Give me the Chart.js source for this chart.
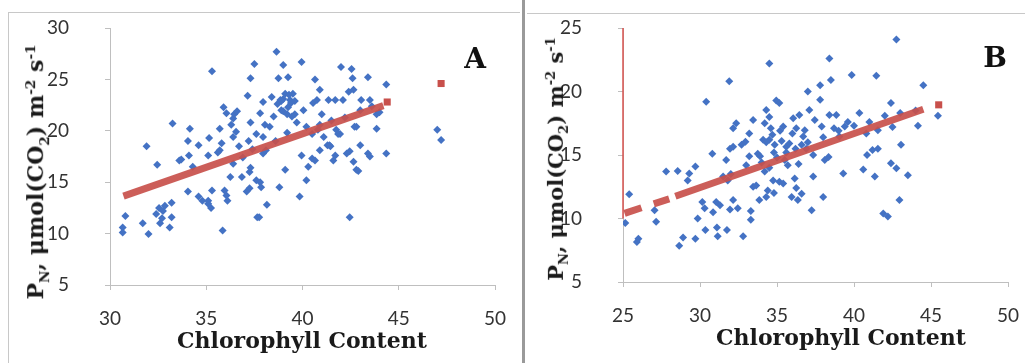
<!DOCTYPE html>
<html>
<head>
<meta charset="utf-8">
<script src="https://cdn.jsdelivr.net/npm/chart.js@4.4.1/dist/chart.umd.min.js"></script>
<style>
  body { margin: 0; background: #fff; }
  #wrap { position: relative; width: 1025px; height: 363px; overflow: hidden; background: #fff; }
  .panel { position: absolute; top: 0; height: 363px; }
  .panel canvas { position: absolute; left: 0; top: 0; }
  .ytitle { position: absolute; white-space: nowrap; font-family: "DejaVu Serif", serif; font-weight: bold; color: #1a1a1a; transform: translate(-50%, -50%) rotate(-90deg); }
  .ytitle sub, .ytitle sup { font-size: 62%; }
  .xtitle { position: absolute; white-space: nowrap; font-family: "DejaVu Serif", serif; font-weight: bold; color: #1a1a1a; transform: translate(-50%, -50%); }
  .tag { position: absolute; font-family: "DejaVu Serif", serif; font-weight: bold; font-size: 28px; color: #111; transform: translate(-50%, -50%); }
  .line { position: absolute; background: #c8c8c8; }
</style>
</head>
<body>
<div id="wrap">
  <div class="line" style="left:8px;top:12px;width:512px;height:1px"></div>
  <div class="line" style="left:8px;top:12px;width:1px;height:351px"></div>
  <div class="line" style="left:527px;top:13px;width:498px;height:1px"></div>
  <div class="line" style="left:522px;top:0;width:3px;height:363px;background:#9a9a9a"></div>

  <div class="panel" style="left:0;width:520px">
    <canvas id="chartA" width="520" height="363"></canvas>
  </div>
  <div class="panel" style="left:526px;width:499px">
    <canvas id="chartB" width="499" height="363"></canvas>
  </div>

  <div class="ytitle" style="left:37px;top:172px;font-size:22px">P<sub>N</sub>, μmol(CO<sub>2</sub>) m<sup>-2</sup> s<sup>-1</sup></div>
  <div class="ytitle" style="left:557px;top:159px;font-size:21px">P<sub>N</sub>, μmol(CO<sub>2</sub>) m<sup>-2</sup> s<sup>-1</sup></div>
  <div class="xtitle" style="left:302px;top:340px;font-size:22px">Chlorophyll Content</div>
  <div class="xtitle" style="left:841px;top:337px;font-size:22px">Chlorophyll Content</div>
  <div class="tag" style="left:475px;top:58px">A</div>
  <div class="tag" style="left:995px;top:57px">B</div>
</div>

<script>
// panel A - measured values
const chlA = [
  30.66, 30.66, 30.8, 31.7, 31.9, 32.0, 32.45, 32.4, 32.55, 32.7,
  32.75, 32.85, 32.6, 33.1, 33.2, 33.2, 33.25, 33.6, 34.1, 34.05,
  34.15, 34.05, 34.6, 34.6, 34.8, 35.1, 35.15, 35.1, 35.25, 35.1,
  35.3, 35.3, 35.7, 35.7, 35.85, 35.8, 35.9, 35.95, 36.05, 36.1,
  36.05, 36.25, 36.3, 36.4, 36.45, 36.6, 36.4, 36.4, 36.55, 36.85,
  37.1, 37.15, 37.25, 37.25, 37.3, 37.3, 37.3, 37.5, 37.6, 37.65,
  37.75, 37.8, 37.6, 37.95, 38.05, 37.95, 37.8, 37.85, 38.15, 37.95,
  38.1, 38.3, 38.5, 38.65, 38.75, 38.8, 38.85, 38.9, 39.0, 39.0,
  39.1, 39.1, 39.2, 39.25, 39.25, 39.35, 39.45, 39.5, 39.6, 39.7,
  39.85, 39.95, 39.95, 40.05, 40.2, 40.3, 40.5, 40.5, 40.55, 40.65,
  40.65, 40.75, 40.8, 40.9, 40.9, 41.0, 41.1, 41.3, 41.35, 41.4,
  41.45, 41.6, 41.7, 41.7, 41.75, 41.85, 41.95, 42.0, 42.1, 42.3,
  42.4, 42.45, 42.45, 42.55, 42.6, 42.65, 42.65, 42.7, 42.8, 42.8,
  42.9, 43.0, 43.05, 43.4, 43.4, 43.5, 43.5, 43.85, 43.85, 44.35,
  44.35, 47.0, 47.2, 33.7, 34.3, 35.6, 36.9, 37.4, 38.6, 39.2,
  40.2, 40.9, 41.5, 42.2, 43.0, 43.6, 44.0, 38.4, 39.6, 38.7,
  39.0, 39.3, 39.4, 38.9, 37.2, 36.7
];
const pnA = [
  10.6, 10.1, 11.7, 11.0, 18.5, 9.95, 16.7, 11.9, 12.5, 11.5,
  12.2, 12.7, 11.0, 10.6, 11.6, 13.0, 20.7, 17.1, 17.6, 19.0,
  20.2, 14.1, 18.6, 13.6, 13.2, 12.9, 19.3, 13.2, 12.5, 17.6,
  25.8, 14.2, 18.1, 20.2, 10.3, 18.8, 22.3, 14.2, 21.7, 13.2,
  13.7, 15.5, 20.6, 21.2, 21.6, 21.9, 19.4, 16.8, 19.9, 15.5,
  14.1, 23.4, 14.4, 16.0, 20.8, 16.4, 25.1, 26.5, 15.2, 11.6,
  11.6, 15.0, 19.7, 19.4, 20.6, 22.8, 21.7, 14.5, 12.8, 17.8,
  18.1, 20.4, 21.4, 27.7, 25.1, 14.5, 23.0, 22.0, 26.4, 23.1,
  16.2, 23.6, 21.6, 25.2, 22.3, 23.0, 21.4, 23.6, 21.6, 20.8,
  13.6, 17.6, 26.7, 22.0, 15.2, 16.5, 19.7, 17.3, 22.7, 25.0,
  17.1, 23.0, 20.1, 18.1, 24.0, 21.6, 19.4, 18.6, 23.0, 18.6,
  18.5, 17.1, 17.6, 23.0, 20.1, 19.7, 19.7, 26.2, 23.0, 17.8,
  23.8, 18.0, 11.6, 26.0, 25.1, 24.0, 17.0, 20.4, 20.4, 16.2,
  16.1, 18.6, 23.0, 25.2, 17.8, 17.5, 23.0, 20.2, 21.6, 24.5,
  17.8, 20.1, 19.1, 17.2, 16.5, 17.9, 17.4, 18.2, 19.0, 19.8,
  20.4, 20.6, 21.0, 21.3, 22.0, 22.4, 21.8, 23.3, 22.9, 22.6,
  21.9, 23.5, 22.7, 22.9, 19.0, 18.5
];
// red fitted values
const fitChlA = [30.7, 44.2];
const fitPnA = [13.65, 22.45];
const endChlA = [44.4, 47.2];
const endPnA = [22.8, 24.6];
const xTicksA = [30, 35, 40, 45, 50];
const yTicksA = [5, 10, 15, 20, 25, 30];

// panel B
const chlB = [
  25.15, 25.4, 25.9, 26.0, 27.05, 27.15, 27.8, 28.55, 28.65, 28.9,
  29.2, 29.3, 29.7, 29.7, 29.85, 30.15, 30.3, 30.35, 30.4, 30.8,
  30.85, 31.05, 31.1, 31.15, 31.3, 31.7, 31.75, 31.8, 31.9, 31.95,
  31.95, 32.15, 32.15, 32.15, 32.35, 32.45, 32.7, 32.8, 32.95, 33.2,
  33.2, 33.3, 33.3, 33.45, 33.45, 33.65, 33.75, 33.85, 34.1, 34.2,
  34.3, 34.3, 34.2, 34.4, 34.5, 34.5, 34.5, 34.6, 34.75, 34.8,
  34.85, 34.95, 35.15, 35.15, 35.4, 35.4, 35.5, 35.6, 35.8, 35.95,
  36.05, 36.15, 36.25, 36.25, 36.35, 36.45, 36.6, 36.7, 36.8, 36.9,
  37.0, 37.1, 37.25, 37.35, 37.35, 37.45, 37.8, 37.8, 37.9, 38.0,
  38.1, 38.35, 38.4, 38.4, 38.5, 38.85, 39.05, 39.3, 39.4, 39.85,
  40.35, 40.6, 40.8, 40.85, 41.2, 41.35, 41.45, 41.55, 41.55, 41.9,
  42.2, 42.4, 42.4, 42.75, 42.75, 42.95, 43.05, 43.5, 44.15, 44.5,
  45.45, 31.5, 32.0, 33.0, 34.0, 35.0, 35.6, 36.2, 37.0, 38.0,
  39.0, 40.0, 41.0, 42.0, 43.0, 44.0, 42.5, 38.7, 39.6, 34.7,
  35.3, 36.4, 34.3, 34.8, 35.2, 35.7, 36.0, 36.6, 33.9, 34.5
];
const pnB = [
  9.65, 11.9, 8.15, 8.4, 10.65, 9.75, 13.7, 13.75, 7.85, 8.5,
  13.0, 13.55, 14.1, 8.4, 10.0, 11.3, 10.8, 9.1, 19.2, 15.1,
  10.5, 11.3, 9.3, 8.6, 11.05, 14.6, 9.1, 13.0, 20.8, 10.7,
  15.5, 15.65, 17.1, 11.45, 17.5, 10.8, 15.8, 8.6, 16.05, 14.9,
  16.7, 10.6, 9.9, 12.5, 17.75, 12.6, 15.1, 11.45, 16.2, 13.7,
  11.7, 18.55, 17.5, 12.2, 22.2, 18.0, 16.2, 17.1, 13.0, 12.0,
  15.8, 19.3, 19.1, 12.9, 12.75, 17.25, 14.6, 15.65, 15.9, 11.7,
  17.9, 13.15, 12.4, 17.1, 11.45, 18.15, 11.95, 16.45, 16.95, 15.5,
  20.0, 18.55, 10.65, 13.3, 15.0, 17.75, 20.5, 19.35, 17.25, 11.7,
  14.6, 14.85, 18.15, 22.6, 20.9, 18.15, 16.45, 13.55, 17.25, 21.3,
  18.3, 13.85, 16.7, 15.0, 15.4, 13.3, 21.25, 15.5, 16.95, 10.4,
  10.15, 19.1, 14.35, 13.95, 24.1, 11.45, 15.8, 13.4, 17.3, 20.5,
  18.1, 13.3, 13.5, 14.2, 14.4, 14.8, 15.2, 15.5, 16.0, 16.4,
  16.9, 17.3, 17.6, 18.1, 18.3, 18.5, 17.2, 17.1, 17.6, 16.6,
  16.1, 14.3, 16.0, 15.2, 16.9, 14.2, 16.7, 15.8, 14.9, 14.0
];
// red fitted values (null = gap in the red band)
const fitChlB = [25.1, 26.2, 26.6, 27.0, 28.0, 28.2, 28.4, 44.5];
const fitPnB = [10.4, 10.85, null, 11.15, 11.55, null, 11.75, 18.6];
const endChlB = [45.5];
const endPnB = [18.95];
const xTicksB = [25, 30, 35, 40, 45, 50];
const yTicksB = [5, 10, 15, 20, 25];

const blue = '#4472C4';
const red = '#C8504B';
const axisGrey = '#bfbfbf';

function pairs(xs, ys) {
    return xs.map((x, i) => ({ x: x, y: ys[i] }));
}

function makeScale(ticks, fitSize, isX) {
    return {
        type: 'linear',
        min: ticks[0],
        max: ticks[ticks.length - 1],
        afterFit: function(scale) {
            // fixed axis size, and keep the plot box where the original has it
            if (isX) {
                scale.height = fitSize;
                scale.paddingLeft = 0;
                scale.paddingRight = 0;
            } else {
                scale.width = fitSize;
                scale.paddingTop = 0;
                scale.paddingBottom = 0;
            }
        },
        afterBuildTicks: function(scale) {
            scale.ticks = ticks.map(v => ({ value: v }));
        },
        grid: { drawOnChartArea: false, drawTicks: true, tickLength: 5, color: axisGrey },
        border: { color: axisGrey, width: 1 },
        ticks: {
            color: '#333',
            padding: isX ? 17 : 36,
            font: { family: 'Lato', size: 19 },
            maxRotation: 0
        }
    };
}

function buildChart(id, d, plugins) {
    let ctx = document.getElementById(id).getContext('2d');
    return new Chart(ctx, {
        type: 'scatter',
        data: {
            datasets: [
                {
                    // thick red fitted band
                    data: pairs(d.fitX, d.fitY),
                    showLine: true,
                    spanGaps: false,
                    borderColor: 'rgba(200,80,75,0.92)',
                    borderWidth: 7,
                    pointRadius: 0,
                    order: 0
                },
                {
                    data: pairs(d.endX, d.endY),
                    pointStyle: 'rect',
                    pointRadius: 5,
                    backgroundColor: red,
                    borderColor: red,
                    borderWidth: 0,
                    order: 0
                },
                {
                    data: pairs(d.x, d.y),
                    pointStyle: 'rectRot',
                    pointRadius: 4,
                    backgroundColor: blue,
                    borderColor: blue,
                    borderWidth: 0,
                    order: 1
                }
            ]
        },
        options: {
            responsive: false,
            animation: false,
            layout: { padding: { left: 0, right: d.padRight, top: 28, bottom: 0 } },
            plugins: {
                legend: { display: false },
                tooltip: { enabled: false }
            },
            scales: {
                x: makeScale(d.xTicks, d.xAxisH, true),
                y: makeScale(d.yTicks, d.yAxisW, false)
            }
        },
        plugins: plugins || []
    });
}

// panel B has the upper part of its y axis drawn in red
const redAxisTop = {
    id: 'redAxisTop',
    afterDraw: function(chart) {
        let ctx = chart.ctx;
        let y = chart.scales.y;
        let x0 = chart.chartArea.left;
        ctx.save();
        ctx.strokeStyle = '#d9534f';
        ctx.lineWidth = 1.5;
        ctx.beginPath();
        ctx.moveTo(x0, y.getPixelForValue(25));
        ctx.lineTo(x0, y.getPixelForValue(10));
        ctx.stroke();
        ctx.restore();
    }
};

buildChart('chartA', {
    x: chlA, y: pnA, fitX: fitChlA, fitY: fitPnA, endX: endChlA, endY: endPnA,
    xTicks: xTicksA, yTicks: yTicksA, yAxisW: 110, xAxisH: 78, padRight: 25
});
buildChart('chartB', {
    x: chlB, y: pnB, fitX: fitChlB, fitY: fitPnB, endX: endChlB, endY: endPnB,
    xTicks: xTicksB, yTicks: yTicksB, yAxisW: 97, xAxisH: 81, padRight: 17
}, [redAxisTop]);
</script>
</body>
</html>
